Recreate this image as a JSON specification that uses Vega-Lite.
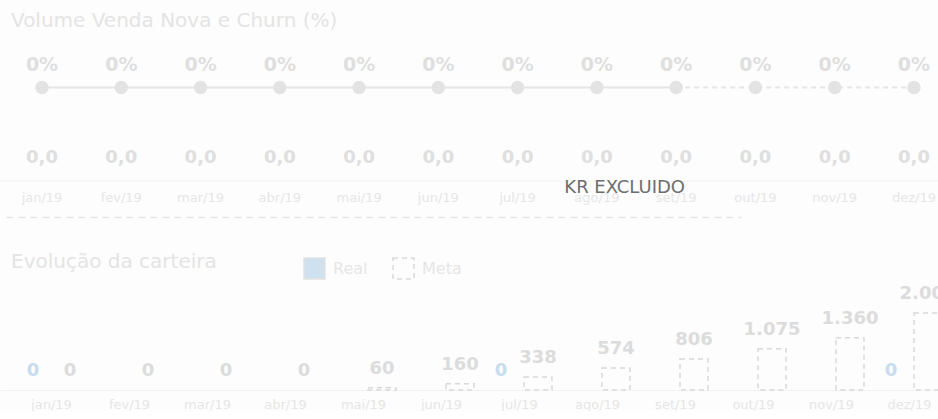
{
  "$schema": "https://vega.github.io/schema/vega-lite/v6.json",
  "background": "#fdfdfd",
  "padding": {"left": 0, "top": 10, "right": 0, "bottom": 0},
  "config": {
    "font": "DejaVu Sans",
    "view": {"stroke": null},
    "locale": {"number": {"decimal": ",", "thousands": ".", "grouping": [3], "currency": ["R$", ""]}},
    "concat": {"spacing": 33}
  },
  "resolve": {"scale": {"fill": "independent", "stroke": "independent", "strokeDash": "independent", "color": "independent"}, "legend": {"fill": "independent", "stroke": "independent", "strokeDash": "independent"}},
  "datasets": {
    "churn": [
      {"mes": "jan/19", "pct": 0, "vol": 0, "real": true, "proj": false},
      {"mes": "fev/19", "pct": 0, "vol": 0, "real": true, "proj": false},
      {"mes": "mar/19", "pct": 0, "vol": 0, "real": true, "proj": false},
      {"mes": "abr/19", "pct": 0, "vol": 0, "real": true, "proj": false},
      {"mes": "mai/19", "pct": 0, "vol": 0, "real": true, "proj": false},
      {"mes": "jun/19", "pct": 0, "vol": 0, "real": true, "proj": false},
      {"mes": "jul/19", "pct": 0, "vol": 0, "real": true, "proj": false},
      {"mes": "ago/19", "pct": 0, "vol": 0, "real": true, "proj": false},
      {"mes": "set/19", "pct": 0, "vol": 0, "real": true, "proj": true},
      {"mes": "out/19", "pct": 0, "vol": 0, "real": false, "proj": true},
      {"mes": "nov/19", "pct": 0, "vol": 0, "real": false, "proj": true},
      {"mes": "dez/19", "pct": 0, "vol": 0, "real": false, "proj": true}
    ],
    "carteira": [
      {"mes": "jan/19", "serie": "Real", "valor": 0},
      {"mes": "jan/19", "serie": "Meta", "valor": 0},
      {"mes": "fev/19", "serie": "Meta", "valor": 0},
      {"mes": "mar/19", "serie": "Meta", "valor": 0},
      {"mes": "abr/19", "serie": "Meta", "valor": 0},
      {"mes": "mai/19", "serie": "Meta", "valor": 60},
      {"mes": "jun/19", "serie": "Meta", "valor": 160},
      {"mes": "jul/19", "serie": "Real", "valor": 0},
      {"mes": "jul/19", "serie": "Meta", "valor": 338},
      {"mes": "ago/19", "serie": "Meta", "valor": 574},
      {"mes": "set/19", "serie": "Meta", "valor": 806},
      {"mes": "out/19", "serie": "Meta", "valor": 1075},
      {"mes": "nov/19", "serie": "Meta", "valor": 1360},
      {"mes": "dez/19", "serie": "Real", "valor": 0},
      {"mes": "dez/19", "serie": "Meta", "valor": 2000}
    ],
    "nota": [{"texto": "KR EXCLUIDO"}]
  },
  "vconcat": [
    {
      "width": 956,
      "height": 139.5,
      "title": {"text": "Volume Venda Nova e Churn (%)", "anchor": "start", "frame": "group", "offset": 10.5, "fontSize": 20, "fontWeight": "normal", "color": "#e4e4e4", "dx": 11},
      "data": {"name": "churn"},
      "encoding": {
        "x": {"field": "mes", "type": "ordinal", "sort": null,
              "scale": {"paddingInner": 0, "paddingOuter": 0.03},
              "axis": {"title": null, "ticks": false, "domainColor": "#f2f2f2", "domainWidth": 1, "labelColor": "#e6e6e6", "labelFontSize": 13, "labelPadding": 11, "labelAngle": 0}}
      },
      "layer": [
        {
          "transform": [{"filter": "datum.real"}],
          "mark": {"type": "line", "color": "#e6e6e6", "strokeWidth": 2},
          "encoding": {"y": {"field": "pct", "type": "quantitative", "scale": {"domain": [-1, 0.5], "nice": false, "zero": false}, "axis": null}}
        },
        {
          "transform": [{"filter": "datum.proj"}],
          "mark": {"type": "line", "color": "#e6e6e6", "strokeWidth": 2, "strokeDash": [5, 4]},
          "encoding": {"y": {"field": "pct", "type": "quantitative"}}
        },
        {
          "mark": {"type": "point", "shape": "circle", "filled": true, "color": "#e3e3e3", "size": 180, "opacity": 1},
          "encoding": {"y": {"field": "pct", "type": "quantitative"}}
        },
        {
          "mark": {"type": "text", "fontSize": 19, "fontWeight": "bold", "color": "#dfdfdf", "dy": -23, "baseline": "middle"},
          "encoding": {"y": {"field": "pct", "type": "quantitative"}, "text": {"field": "pct", "type": "quantitative", "format": ".0%"}}
        },
        {
          "mark": {"type": "text", "fontSize": 18, "fontWeight": "bold", "color": "#dfdfdf", "dy": -23, "baseline": "middle"},
          "encoding": {"y": {"datum": -1}, "text": {"field": "vol", "type": "quantitative", "format": ",.1f"}}
        },
        {
          "data": {"name": "nota"},
          "mark": {"type": "text", "fontSize": 18, "color": "#6e6e6e", "baseline": "middle", "align": "center"},
          "encoding": {"x": {"datum": "ago/19", "bandPosition": 0.85}, "y": {"datum": -1.086}, "text": {"field": "texto"}}
        },
        {
          "data": {"name": "nota"},
          "mark": {"type": "rule", "color": "#e6e6e6", "strokeWidth": 1.5, "strokeDash": [7, 5]},
          "encoding": {"x": {"datum": "jan/19", "bandPosition": 0.05}, "x2": {"datum": "out/19", "bandPosition": 0.32}, "y": {"datum": -1.398}}
        }
      ]
    },
    {
      "width": 961,
      "height": 135,
      "title": {"text": "Evolução da carteira", "anchor": "start", "frame": "group", "offset": -33, "baseline": "alphabetic", "fontSize": 20, "fontWeight": "normal", "color": "#e4e4e4", "dx": 11},
      "data": {"name": "carteira"},
      "encoding": {
        "x": {"field": "mes", "type": "ordinal", "sort": ["jan/19", "fev/19", "mar/19", "abr/19", "mai/19", "jun/19", "jul/19", "ago/19", "set/19", "out/19", "nov/19", "dez/19"],
              "scale": {"paddingInner": 0, "paddingOuter": 0.16},
              "axis": {"title": null, "ticks": false, "domainColor": "#f2f2f2", "domainWidth": 1, "labelColor": "#e6e6e6", "labelFontSize": 13, "labelPadding": 8, "labelAngle": 0}},
        "xOffset": {"field": "serie", "type": "nominal", "sort": ["Real", "Meta"], "scale": {"paddingInner": 0.243, "paddingOuter": 0.176}},
        "y": {"field": "valor", "type": "quantitative", "scale": {"domain": [0, 3510], "nice": false}, "axis": null}
      },
      "layer": [
        {
          "transform": [{"filter": "datum.valor > 0"}],
          "mark": {"type": "bar", "strokeWidth": 1.5},
          "encoding": {
            "fill": {"field": "serie", "type": "nominal", "sort": ["Real", "Meta"],
                     "scale": {"domain": ["Real", "Meta"], "range": ["#cfe0ee", "transparent"]},
                     "legend": {"title": null, "orient": "none", "legendX": 303, "legendY": 2, "direction": "horizontal", "symbolType": "square", "symbolSize": 440, "symbolStrokeWidth": 1.5, "labelFontSize": 16, "labelColor": "#e6e6e6", "labelOffset": 7, "columnPadding": 22}},
            "stroke": {"field": "serie", "type": "nominal", "sort": ["Real", "Meta"],
                       "scale": {"domain": ["Real", "Meta"], "range": ["#e2e2e2", "#d9d9d9"]}},
            "strokeDash": {"field": "serie", "type": "nominal", "sort": ["Real", "Meta"],
                           "scale": {"domain": ["Real", "Meta"], "range": [[1, 0], [5, 4]]}}
          }
        },
        {
          "mark": {"type": "text", "fontSize": 18, "fontWeight": "bold", "dy": -19, "baseline": "middle"},
          "encoding": {
            "text": {"field": "valor", "type": "quantitative", "format": ",d"},
            "color": {"field": "serie", "type": "nominal", "scale": {"domain": ["Real", "Meta"], "range": ["#c6dcef", "#dcdcdc"]}, "legend": null}
          }
        }
      ]
    }
  ]
}
